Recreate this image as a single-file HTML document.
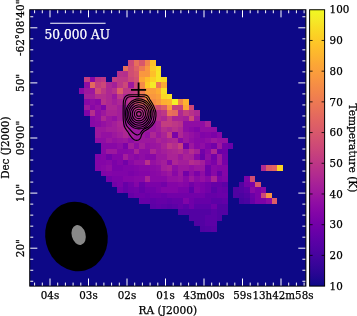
<!DOCTYPE html>
<html><head><meta charset="utf-8"><title>Temperature map</title>
<style>
html,body{margin:0;padding:0;background:#fff;}
body{width:357px;height:316px;overflow:hidden;}
svg{display:block;}
text{font-family:"DejaVu Serif","Liberation Serif",serif;font-size:10.3px;fill:#000;stroke:#000;stroke-width:0.25px;}
</style></head><body>
<svg width="357" height="316" viewBox="0 0 357 316">
<rect x="0" y="0" width="357" height="316" fill="#fff"/>
<rect x="29.75" y="9.75" width="276.15" height="276.35" fill="#0d0887"/>
<g shape-rendering="crispEdges">
<rect x="128.18" y="60.40" width="5.57" height="5.57" fill="#cc4778"/><rect x="133.70" y="60.40" width="5.57" height="5.57" fill="#e76f5a"/><rect x="139.22" y="60.40" width="5.57" height="5.57" fill="#d8576b"/><rect x="144.74" y="60.40" width="5.57" height="5.57" fill="#f2844b"/><rect x="150.26" y="60.40" width="5.57" height="5.57" fill="#fec029"/>
<rect x="122.66" y="65.92" width="5.57" height="5.57" fill="#e76f5a"/><rect x="128.18" y="65.92" width="5.57" height="5.57" fill="#d04d73"/><rect x="133.70" y="65.92" width="5.57" height="5.57" fill="#de6164"/><rect x="139.22" y="65.92" width="5.57" height="5.57" fill="#ed7953"/><rect x="144.74" y="65.92" width="5.57" height="5.57" fill="#f9973f"/><rect x="150.26" y="65.92" width="5.57" height="5.57" fill="#fdca26"/><rect x="155.78" y="65.92" width="5.57" height="5.57" fill="#f8e125"/>
<rect x="117.14" y="71.44" width="5.57" height="5.57" fill="#b7318a"/><rect x="122.66" y="71.44" width="5.57" height="5.57" fill="#b42e8d"/><rect x="128.18" y="71.44" width="5.57" height="5.57" fill="#d04d73"/><rect x="133.70" y="71.44" width="5.57" height="5.57" fill="#d8576b"/><rect x="139.22" y="71.44" width="5.57" height="5.57" fill="#f9973f"/><rect x="144.74" y="71.44" width="5.57" height="5.57" fill="#f9973f"/><rect x="150.26" y="71.44" width="5.57" height="5.57" fill="#fec029"/><rect x="155.78" y="71.44" width="5.57" height="5.57" fill="#f6e626"/>
<rect x="84.02" y="76.96" width="5.57" height="5.57" fill="#c33d80"/><rect x="89.54" y="76.96" width="5.57" height="5.57" fill="#8808a6"/><rect x="95.06" y="76.96" width="5.57" height="5.57" fill="#b7318a"/><rect x="100.58" y="76.96" width="5.57" height="5.57" fill="#bd3786"/><rect x="111.62" y="76.96" width="5.57" height="5.57" fill="#c33d80"/><rect x="117.14" y="76.96" width="5.57" height="5.57" fill="#bd3786"/><rect x="122.66" y="76.96" width="5.57" height="5.57" fill="#bd3786"/><rect x="128.18" y="76.96" width="5.57" height="5.57" fill="#cc4778"/><rect x="133.70" y="76.96" width="5.57" height="5.57" fill="#d35171"/><rect x="139.22" y="76.96" width="5.57" height="5.57" fill="#fca636"/><rect x="144.74" y="76.96" width="5.57" height="5.57" fill="#febd2a"/><rect x="150.26" y="76.96" width="5.57" height="5.57" fill="#fbd324"/><rect x="155.78" y="76.96" width="5.57" height="5.57" fill="#f6e626"/><rect x="161.30" y="76.96" width="5.57" height="5.57" fill="#f9dc24"/>
<rect x="84.02" y="82.48" width="5.57" height="5.57" fill="#8f0da4"/><rect x="89.54" y="82.48" width="5.57" height="5.57" fill="#e3685f"/><rect x="95.06" y="82.48" width="5.57" height="5.57" fill="#c33d80"/><rect x="100.58" y="82.48" width="5.57" height="5.57" fill="#cc4778"/><rect x="106.10" y="82.48" width="5.57" height="5.57" fill="#ad2793"/><rect x="111.62" y="82.48" width="5.57" height="5.57" fill="#a31e9a"/><rect x="117.14" y="82.48" width="5.57" height="5.57" fill="#bd3786"/><rect x="122.66" y="82.48" width="5.57" height="5.57" fill="#cc4778"/><rect x="128.18" y="82.48" width="5.57" height="5.57" fill="#9c179e"/><rect x="133.70" y="82.48" width="5.57" height="5.57" fill="#cc4778"/><rect x="139.22" y="82.48" width="5.57" height="5.57" fill="#f58b47"/><rect x="144.74" y="82.48" width="5.57" height="5.57" fill="#fdca26"/><rect x="150.26" y="82.48" width="5.57" height="5.57" fill="#f5eb27"/><rect x="155.78" y="82.48" width="5.57" height="5.57" fill="#ed7953"/><rect x="161.30" y="82.48" width="5.57" height="5.57" fill="#fdab33"/>
<rect x="78.50" y="88.00" width="5.57" height="5.57" fill="#8808a6"/><rect x="84.02" y="88.00" width="5.57" height="5.57" fill="#9c179e"/><rect x="89.54" y="88.00" width="5.57" height="5.57" fill="#9c179e"/><rect x="95.06" y="88.00" width="5.57" height="5.57" fill="#d04d73"/><rect x="100.58" y="88.00" width="5.57" height="5.57" fill="#bd3786"/><rect x="106.10" y="88.00" width="5.57" height="5.57" fill="#ad2793"/><rect x="111.62" y="88.00" width="5.57" height="5.57" fill="#b7318a"/><rect x="117.14" y="88.00" width="5.57" height="5.57" fill="#dc5d67"/><rect x="122.66" y="88.00" width="5.57" height="5.57" fill="#bd3786"/><rect x="128.18" y="88.00" width="5.57" height="5.57" fill="#bd3786"/><rect x="133.70" y="88.00" width="5.57" height="5.57" fill="#c33d80"/><rect x="139.22" y="88.00" width="5.57" height="5.57" fill="#ed7953"/><rect x="144.74" y="88.00" width="5.57" height="5.57" fill="#fb9f3a"/><rect x="150.26" y="88.00" width="5.57" height="5.57" fill="#fb9f3a"/><rect x="155.78" y="88.00" width="5.57" height="5.57" fill="#fdab33"/><rect x="161.30" y="88.00" width="5.57" height="5.57" fill="#f8e125"/>
<rect x="84.02" y="93.52" width="5.57" height="5.57" fill="#a31e9a"/><rect x="89.54" y="93.52" width="5.57" height="5.57" fill="#a31e9a"/><rect x="95.06" y="93.52" width="5.57" height="5.57" fill="#b42e8d"/><rect x="100.58" y="93.52" width="5.57" height="5.57" fill="#b42e8d"/><rect x="106.10" y="93.52" width="5.57" height="5.57" fill="#ad2793"/><rect x="111.62" y="93.52" width="5.57" height="5.57" fill="#9c179e"/><rect x="117.14" y="93.52" width="5.57" height="5.57" fill="#bd3786"/><rect x="122.66" y="93.52" width="5.57" height="5.57" fill="#ad2793"/><rect x="128.18" y="93.52" width="5.57" height="5.57" fill="#b7318a"/><rect x="133.70" y="93.52" width="5.57" height="5.57" fill="#bd3786"/><rect x="139.22" y="93.52" width="5.57" height="5.57" fill="#e16462"/><rect x="144.74" y="93.52" width="5.57" height="5.57" fill="#f68f44"/><rect x="150.26" y="93.52" width="5.57" height="5.57" fill="#f9973f"/><rect x="155.78" y="93.52" width="5.57" height="5.57" fill="#fb9f3a"/><rect x="161.30" y="93.52" width="5.57" height="5.57" fill="#fad824"/><rect x="166.82" y="93.52" width="5.57" height="5.57" fill="#f8e125"/>
<rect x="84.02" y="99.04" width="5.57" height="5.57" fill="#8808a6"/><rect x="89.54" y="99.04" width="5.57" height="5.57" fill="#8f0da4"/><rect x="95.06" y="99.04" width="5.57" height="5.57" fill="#8808a6"/><rect x="100.58" y="99.04" width="5.57" height="5.57" fill="#b7318a"/><rect x="106.10" y="99.04" width="5.57" height="5.57" fill="#ad2793"/><rect x="111.62" y="99.04" width="5.57" height="5.57" fill="#a31e9a"/><rect x="117.14" y="99.04" width="5.57" height="5.57" fill="#ad2793"/><rect x="122.66" y="99.04" width="5.57" height="5.57" fill="#ad2793"/><rect x="128.18" y="99.04" width="5.57" height="5.57" fill="#bd3786"/><rect x="133.70" y="99.04" width="5.57" height="5.57" fill="#cc4778"/><rect x="139.22" y="99.04" width="5.57" height="5.57" fill="#de6164"/><rect x="144.74" y="99.04" width="5.57" height="5.57" fill="#f0804e"/><rect x="150.26" y="99.04" width="5.57" height="5.57" fill="#f58b47"/><rect x="155.78" y="99.04" width="5.57" height="5.57" fill="#f9973f"/><rect x="161.30" y="99.04" width="5.57" height="5.57" fill="#fdaf31"/><rect x="166.82" y="99.04" width="5.57" height="5.57" fill="#fdb42f"/><rect x="172.34" y="99.04" width="5.57" height="5.57" fill="#f3f027"/><rect x="177.86" y="99.04" width="5.57" height="5.57" fill="#f2844b"/><rect x="183.38" y="99.04" width="5.57" height="5.57" fill="#fdb42f"/>
<rect x="84.02" y="104.56" width="5.57" height="5.57" fill="#9c179e"/><rect x="89.54" y="104.56" width="5.57" height="5.57" fill="#8808a6"/><rect x="95.06" y="104.56" width="5.57" height="5.57" fill="#9410a2"/><rect x="100.58" y="104.56" width="5.57" height="5.57" fill="#8004a8"/><rect x="106.10" y="104.56" width="5.57" height="5.57" fill="#ad2793"/><rect x="111.62" y="104.56" width="5.57" height="5.57" fill="#ad2793"/><rect x="117.14" y="104.56" width="5.57" height="5.57" fill="#a31e9a"/><rect x="122.66" y="104.56" width="5.57" height="5.57" fill="#9c179e"/><rect x="128.18" y="104.56" width="5.57" height="5.57" fill="#ad2793"/><rect x="133.70" y="104.56" width="5.57" height="5.57" fill="#bd3786"/><rect x="139.22" y="104.56" width="5.57" height="5.57" fill="#c6417d"/><rect x="144.74" y="104.56" width="5.57" height="5.57" fill="#d8576b"/><rect x="150.26" y="104.56" width="5.57" height="5.57" fill="#dc5d67"/><rect x="155.78" y="104.56" width="5.57" height="5.57" fill="#d04d73"/><rect x="161.30" y="104.56" width="5.57" height="5.57" fill="#dc5d67"/><rect x="166.82" y="104.56" width="5.57" height="5.57" fill="#f9973f"/><rect x="172.34" y="104.56" width="5.57" height="5.57" fill="#c6417d"/><rect x="177.86" y="104.56" width="5.57" height="5.57" fill="#c6417d"/><rect x="183.38" y="104.56" width="5.57" height="5.57" fill="#fca636"/><rect x="188.90" y="104.56" width="5.57" height="5.57" fill="#cc4778"/>
<rect x="84.02" y="110.08" width="5.57" height="5.57" fill="#8004a8"/><rect x="89.54" y="110.08" width="5.57" height="5.57" fill="#b42e8d"/><rect x="95.06" y="110.08" width="5.57" height="5.57" fill="#8f0da4"/><rect x="100.58" y="110.08" width="5.57" height="5.57" fill="#9c179e"/><rect x="106.10" y="110.08" width="5.57" height="5.57" fill="#aa2395"/><rect x="111.62" y="110.08" width="5.57" height="5.57" fill="#aa2395"/><rect x="117.14" y="110.08" width="5.57" height="5.57" fill="#a31e9a"/><rect x="122.66" y="110.08" width="5.57" height="5.57" fill="#9410a2"/><rect x="128.18" y="110.08" width="5.57" height="5.57" fill="#a62098"/><rect x="133.70" y="110.08" width="5.57" height="5.57" fill="#b42e8d"/><rect x="139.22" y="110.08" width="5.57" height="5.57" fill="#b42e8d"/><rect x="144.74" y="110.08" width="5.57" height="5.57" fill="#bd3786"/><rect x="150.26" y="110.08" width="5.57" height="5.57" fill="#b42e8d"/><rect x="155.78" y="110.08" width="5.57" height="5.57" fill="#b42e8d"/><rect x="161.30" y="110.08" width="5.57" height="5.57" fill="#bd3786"/><rect x="166.82" y="110.08" width="5.57" height="5.57" fill="#e97158"/><rect x="172.34" y="110.08" width="5.57" height="5.57" fill="#e56b5d"/><rect x="177.86" y="110.08" width="5.57" height="5.57" fill="#ad2793"/><rect x="183.38" y="110.08" width="5.57" height="5.57" fill="#c33d80"/><rect x="188.90" y="110.08" width="5.57" height="5.57" fill="#b7318a"/><rect x="194.42" y="110.08" width="5.57" height="5.57" fill="#ad2793"/>
<rect x="89.54" y="115.60" width="5.57" height="5.57" fill="#8808a6"/><rect x="95.06" y="115.60" width="5.57" height="5.57" fill="#8f0da4"/><rect x="100.58" y="115.60" width="5.57" height="5.57" fill="#ad2793"/><rect x="106.10" y="115.60" width="5.57" height="5.57" fill="#9c179e"/><rect x="111.62" y="115.60" width="5.57" height="5.57" fill="#9410a2"/><rect x="117.14" y="115.60" width="5.57" height="5.57" fill="#a31e9a"/><rect x="122.66" y="115.60" width="5.57" height="5.57" fill="#9c179e"/><rect x="128.18" y="115.60" width="5.57" height="5.57" fill="#a31e9a"/><rect x="133.70" y="115.60" width="5.57" height="5.57" fill="#ad2793"/><rect x="139.22" y="115.60" width="5.57" height="5.57" fill="#ad2793"/><rect x="144.74" y="115.60" width="5.57" height="5.57" fill="#ad2793"/><rect x="150.26" y="115.60" width="5.57" height="5.57" fill="#a62098"/><rect x="155.78" y="115.60" width="5.57" height="5.57" fill="#b42e8d"/><rect x="161.30" y="115.60" width="5.57" height="5.57" fill="#ad2793"/><rect x="166.82" y="115.60" width="5.57" height="5.57" fill="#c33d80"/><rect x="172.34" y="115.60" width="5.57" height="5.57" fill="#aa2395"/><rect x="177.86" y="115.60" width="5.57" height="5.57" fill="#aa2395"/><rect x="183.38" y="115.60" width="5.57" height="5.57" fill="#a31e9a"/><rect x="188.90" y="115.60" width="5.57" height="5.57" fill="#cc4778"/><rect x="194.42" y="115.60" width="5.57" height="5.57" fill="#9c179e"/>
<rect x="89.54" y="121.12" width="5.57" height="5.57" fill="#8808a6"/><rect x="95.06" y="121.12" width="5.57" height="5.57" fill="#8b0aa5"/><rect x="100.58" y="121.12" width="5.57" height="5.57" fill="#9410a2"/><rect x="106.10" y="121.12" width="5.57" height="5.57" fill="#9c179e"/><rect x="111.62" y="121.12" width="5.57" height="5.57" fill="#a31e9a"/><rect x="117.14" y="121.12" width="5.57" height="5.57" fill="#ad2793"/><rect x="122.66" y="121.12" width="5.57" height="5.57" fill="#9c179e"/><rect x="128.18" y="121.12" width="5.57" height="5.57" fill="#9c179e"/><rect x="133.70" y="121.12" width="5.57" height="5.57" fill="#a31e9a"/><rect x="139.22" y="121.12" width="5.57" height="5.57" fill="#a31e9a"/><rect x="144.74" y="121.12" width="5.57" height="5.57" fill="#a31e9a"/><rect x="150.26" y="121.12" width="5.57" height="5.57" fill="#9c179e"/><rect x="155.78" y="121.12" width="5.57" height="5.57" fill="#a62098"/><rect x="161.30" y="121.12" width="5.57" height="5.57" fill="#c33d80"/><rect x="166.82" y="121.12" width="5.57" height="5.57" fill="#c33d80"/><rect x="172.34" y="121.12" width="5.57" height="5.57" fill="#bd3786"/><rect x="177.86" y="121.12" width="5.57" height="5.57" fill="#b7318a"/><rect x="183.38" y="121.12" width="5.57" height="5.57" fill="#8f0da4"/><rect x="188.90" y="121.12" width="5.57" height="5.57" fill="#8f0da4"/><rect x="194.42" y="121.12" width="5.57" height="5.57" fill="#8f0da4"/><rect x="199.94" y="121.12" width="5.57" height="5.57" fill="#8f0da4"/><rect x="205.46" y="121.12" width="5.57" height="5.57" fill="#a62098"/>
<rect x="95.06" y="126.64" width="5.57" height="5.57" fill="#9c179e"/><rect x="100.58" y="126.64" width="5.57" height="5.57" fill="#9c179e"/><rect x="106.10" y="126.64" width="5.57" height="5.57" fill="#a31e9a"/><rect x="111.62" y="126.64" width="5.57" height="5.57" fill="#a31e9a"/><rect x="117.14" y="126.64" width="5.57" height="5.57" fill="#aa2395"/><rect x="122.66" y="126.64" width="5.57" height="5.57" fill="#ad2793"/><rect x="128.18" y="126.64" width="5.57" height="5.57" fill="#9c179e"/><rect x="133.70" y="126.64" width="5.57" height="5.57" fill="#9c179e"/><rect x="139.22" y="126.64" width="5.57" height="5.57" fill="#9c179e"/><rect x="144.74" y="126.64" width="5.57" height="5.57" fill="#9c179e"/><rect x="150.26" y="126.64" width="5.57" height="5.57" fill="#9c179e"/><rect x="155.78" y="126.64" width="5.57" height="5.57" fill="#a31e9a"/><rect x="161.30" y="126.64" width="5.57" height="5.57" fill="#b42e8d"/><rect x="166.82" y="126.64" width="5.57" height="5.57" fill="#ad2793"/><rect x="172.34" y="126.64" width="5.57" height="5.57" fill="#b7318a"/><rect x="177.86" y="126.64" width="5.57" height="5.57" fill="#ad2793"/><rect x="183.38" y="126.64" width="5.57" height="5.57" fill="#8f0da4"/><rect x="188.90" y="126.64" width="5.57" height="5.57" fill="#8808a6"/><rect x="194.42" y="126.64" width="5.57" height="5.57" fill="#8004a8"/><rect x="199.94" y="126.64" width="5.57" height="5.57" fill="#8f0da4"/><rect x="205.46" y="126.64" width="5.57" height="5.57" fill="#8f0da4"/><rect x="210.98" y="126.64" width="5.57" height="5.57" fill="#8f0da4"/>
<rect x="95.06" y="132.16" width="5.57" height="5.57" fill="#9c179e"/><rect x="100.58" y="132.16" width="5.57" height="5.57" fill="#9410a2"/><rect x="106.10" y="132.16" width="5.57" height="5.57" fill="#9410a2"/><rect x="111.62" y="132.16" width="5.57" height="5.57" fill="#9c179e"/><rect x="117.14" y="132.16" width="5.57" height="5.57" fill="#a31e9a"/><rect x="122.66" y="132.16" width="5.57" height="5.57" fill="#ad2793"/><rect x="128.18" y="132.16" width="5.57" height="5.57" fill="#a31e9a"/><rect x="133.70" y="132.16" width="5.57" height="5.57" fill="#9c179e"/><rect x="139.22" y="132.16" width="5.57" height="5.57" fill="#9c179e"/><rect x="144.74" y="132.16" width="5.57" height="5.57" fill="#9410a2"/><rect x="150.26" y="132.16" width="5.57" height="5.57" fill="#ad2793"/><rect x="155.78" y="132.16" width="5.57" height="5.57" fill="#9c179e"/><rect x="161.30" y="132.16" width="5.57" height="5.57" fill="#aa2395"/><rect x="166.82" y="132.16" width="5.57" height="5.57" fill="#c33d80"/><rect x="172.34" y="132.16" width="5.57" height="5.57" fill="#7b02a8"/><rect x="177.86" y="132.16" width="5.57" height="5.57" fill="#ad2793"/><rect x="183.38" y="132.16" width="5.57" height="5.57" fill="#9c179e"/><rect x="188.90" y="132.16" width="5.57" height="5.57" fill="#9410a2"/><rect x="194.42" y="132.16" width="5.57" height="5.57" fill="#8b0aa5"/><rect x="199.94" y="132.16" width="5.57" height="5.57" fill="#8004a8"/><rect x="205.46" y="132.16" width="5.57" height="5.57" fill="#8405a7"/><rect x="210.98" y="132.16" width="5.57" height="5.57" fill="#7b02a8"/><rect x="216.50" y="132.16" width="5.57" height="5.57" fill="#8808a6"/>
<rect x="95.06" y="137.68" width="5.57" height="5.57" fill="#8f0da4"/><rect x="100.58" y="137.68" width="5.57" height="5.57" fill="#8f0da4"/><rect x="106.10" y="137.68" width="5.57" height="5.57" fill="#9c179e"/><rect x="111.62" y="137.68" width="5.57" height="5.57" fill="#9410a2"/><rect x="117.14" y="137.68" width="5.57" height="5.57" fill="#9814a0"/><rect x="122.66" y="137.68" width="5.57" height="5.57" fill="#9c179e"/><rect x="128.18" y="137.68" width="5.57" height="5.57" fill="#8f0da4"/><rect x="133.70" y="137.68" width="5.57" height="5.57" fill="#9c179e"/><rect x="139.22" y="137.68" width="5.57" height="5.57" fill="#9c179e"/><rect x="144.74" y="137.68" width="5.57" height="5.57" fill="#9c179e"/><rect x="150.26" y="137.68" width="5.57" height="5.57" fill="#9c179e"/><rect x="155.78" y="137.68" width="5.57" height="5.57" fill="#aa2395"/><rect x="161.30" y="137.68" width="5.57" height="5.57" fill="#a31e9a"/><rect x="166.82" y="137.68" width="5.57" height="5.57" fill="#aa2395"/><rect x="172.34" y="137.68" width="5.57" height="5.57" fill="#ad2793"/><rect x="177.86" y="137.68" width="5.57" height="5.57" fill="#8808a6"/><rect x="183.38" y="137.68" width="5.57" height="5.57" fill="#9c179e"/><rect x="188.90" y="137.68" width="5.57" height="5.57" fill="#8f0da4"/><rect x="194.42" y="137.68" width="5.57" height="5.57" fill="#8808a6"/><rect x="199.94" y="137.68" width="5.57" height="5.57" fill="#8808a6"/><rect x="205.46" y="137.68" width="5.57" height="5.57" fill="#8f0da4"/><rect x="210.98" y="137.68" width="5.57" height="5.57" fill="#9c179e"/><rect x="216.50" y="137.68" width="5.57" height="5.57" fill="#9410a2"/><rect x="222.02" y="137.68" width="5.57" height="5.57" fill="#9410a2"/>
<rect x="100.58" y="143.20" width="5.57" height="5.57" fill="#8808a6"/><rect x="106.10" y="143.20" width="5.57" height="5.57" fill="#8808a6"/><rect x="111.62" y="143.20" width="5.57" height="5.57" fill="#8808a6"/><rect x="117.14" y="143.20" width="5.57" height="5.57" fill="#8f0da4"/><rect x="122.66" y="143.20" width="5.57" height="5.57" fill="#7b02a8"/><rect x="128.18" y="143.20" width="5.57" height="5.57" fill="#a31e9a"/><rect x="133.70" y="143.20" width="5.57" height="5.57" fill="#8f0da4"/><rect x="139.22" y="143.20" width="5.57" height="5.57" fill="#a31e9a"/><rect x="144.74" y="143.20" width="5.57" height="5.57" fill="#9410a2"/><rect x="150.26" y="143.20" width="5.57" height="5.57" fill="#9814a0"/><rect x="155.78" y="143.20" width="5.57" height="5.57" fill="#9c179e"/><rect x="161.30" y="143.20" width="5.57" height="5.57" fill="#aa2395"/><rect x="166.82" y="143.20" width="5.57" height="5.57" fill="#bd3786"/><rect x="172.34" y="143.20" width="5.57" height="5.57" fill="#b42e8d"/><rect x="177.86" y="143.20" width="5.57" height="5.57" fill="#c6417d"/><rect x="183.38" y="143.20" width="5.57" height="5.57" fill="#7201a8"/><rect x="188.90" y="143.20" width="5.57" height="5.57" fill="#9c179e"/><rect x="194.42" y="143.20" width="5.57" height="5.57" fill="#8808a6"/><rect x="199.94" y="143.20" width="5.57" height="5.57" fill="#8f0da4"/><rect x="205.46" y="143.20" width="5.57" height="5.57" fill="#8004a8"/><rect x="210.98" y="143.20" width="5.57" height="5.57" fill="#7201a8"/><rect x="216.50" y="143.20" width="5.57" height="5.57" fill="#9c179e"/><rect x="222.02" y="143.20" width="5.57" height="5.57" fill="#7201a8"/><rect x="227.54" y="143.20" width="5.57" height="5.57" fill="#6a00a8"/>
<rect x="100.58" y="148.72" width="5.57" height="5.57" fill="#8808a6"/><rect x="106.10" y="148.72" width="5.57" height="5.57" fill="#9c179e"/><rect x="111.62" y="148.72" width="5.57" height="5.57" fill="#9c179e"/><rect x="117.14" y="148.72" width="5.57" height="5.57" fill="#8808a6"/><rect x="122.66" y="148.72" width="5.57" height="5.57" fill="#8808a6"/><rect x="128.18" y="148.72" width="5.57" height="5.57" fill="#8b0aa5"/><rect x="133.70" y="148.72" width="5.57" height="5.57" fill="#aa2395"/><rect x="139.22" y="148.72" width="5.57" height="5.57" fill="#8f0da4"/><rect x="144.74" y="148.72" width="5.57" height="5.57" fill="#8f0da4"/><rect x="150.26" y="148.72" width="5.57" height="5.57" fill="#ad2793"/><rect x="155.78" y="148.72" width="5.57" height="5.57" fill="#9c179e"/><rect x="161.30" y="148.72" width="5.57" height="5.57" fill="#a31e9a"/><rect x="166.82" y="148.72" width="5.57" height="5.57" fill="#aa2395"/><rect x="172.34" y="148.72" width="5.57" height="5.57" fill="#ad2793"/><rect x="177.86" y="148.72" width="5.57" height="5.57" fill="#b42e8d"/><rect x="183.38" y="148.72" width="5.57" height="5.57" fill="#a31e9a"/><rect x="188.90" y="148.72" width="5.57" height="5.57" fill="#b42e8d"/><rect x="194.42" y="148.72" width="5.57" height="5.57" fill="#a62098"/><rect x="199.94" y="148.72" width="5.57" height="5.57" fill="#7201a8"/><rect x="205.46" y="148.72" width="5.57" height="5.57" fill="#8808a6"/><rect x="210.98" y="148.72" width="5.57" height="5.57" fill="#ad2793"/><rect x="216.50" y="148.72" width="5.57" height="5.57" fill="#6a00a8"/><rect x="222.02" y="148.72" width="5.57" height="5.57" fill="#6f00a8"/>
<rect x="95.06" y="154.24" width="5.57" height="5.57" fill="#8004a8"/><rect x="100.58" y="154.24" width="5.57" height="5.57" fill="#8405a7"/><rect x="106.10" y="154.24" width="5.57" height="5.57" fill="#7201a8"/><rect x="111.62" y="154.24" width="5.57" height="5.57" fill="#8405a7"/><rect x="117.14" y="154.24" width="5.57" height="5.57" fill="#8405a7"/><rect x="122.66" y="154.24" width="5.57" height="5.57" fill="#a31e9a"/><rect x="128.18" y="154.24" width="5.57" height="5.57" fill="#8f0da4"/><rect x="133.70" y="154.24" width="5.57" height="5.57" fill="#8808a6"/><rect x="139.22" y="154.24" width="5.57" height="5.57" fill="#8f0da4"/><rect x="144.74" y="154.24" width="5.57" height="5.57" fill="#8808a6"/><rect x="150.26" y="154.24" width="5.57" height="5.57" fill="#8808a6"/><rect x="155.78" y="154.24" width="5.57" height="5.57" fill="#9c179e"/><rect x="161.30" y="154.24" width="5.57" height="5.57" fill="#9c179e"/><rect x="166.82" y="154.24" width="5.57" height="5.57" fill="#aa2395"/><rect x="172.34" y="154.24" width="5.57" height="5.57" fill="#aa2395"/><rect x="177.86" y="154.24" width="5.57" height="5.57" fill="#9c179e"/><rect x="183.38" y="154.24" width="5.57" height="5.57" fill="#aa2395"/><rect x="188.90" y="154.24" width="5.57" height="5.57" fill="#a62098"/><rect x="194.42" y="154.24" width="5.57" height="5.57" fill="#8808a6"/><rect x="199.94" y="154.24" width="5.57" height="5.57" fill="#6a00a8"/><rect x="205.46" y="154.24" width="5.57" height="5.57" fill="#8f0da4"/><rect x="210.98" y="154.24" width="5.57" height="5.57" fill="#7201a8"/><rect x="216.50" y="154.24" width="5.57" height="5.57" fill="#9c179e"/><rect x="222.02" y="154.24" width="5.57" height="5.57" fill="#7201a8"/>
<rect x="95.06" y="159.76" width="5.57" height="5.57" fill="#8405a7"/><rect x="100.58" y="159.76" width="5.57" height="5.57" fill="#8405a7"/><rect x="106.10" y="159.76" width="5.57" height="5.57" fill="#8808a6"/><rect x="111.62" y="159.76" width="5.57" height="5.57" fill="#7b02a8"/><rect x="117.14" y="159.76" width="5.57" height="5.57" fill="#8405a7"/><rect x="122.66" y="159.76" width="5.57" height="5.57" fill="#7201a8"/><rect x="128.18" y="159.76" width="5.57" height="5.57" fill="#8808a6"/><rect x="133.70" y="159.76" width="5.57" height="5.57" fill="#9410a2"/><rect x="139.22" y="159.76" width="5.57" height="5.57" fill="#9410a2"/><rect x="144.74" y="159.76" width="5.57" height="5.57" fill="#b7318a"/><rect x="150.26" y="159.76" width="5.57" height="5.57" fill="#9410a2"/><rect x="155.78" y="159.76" width="5.57" height="5.57" fill="#9c179e"/><rect x="161.30" y="159.76" width="5.57" height="5.57" fill="#a31e9a"/><rect x="166.82" y="159.76" width="5.57" height="5.57" fill="#8808a6"/><rect x="172.34" y="159.76" width="5.57" height="5.57" fill="#ad2793"/><rect x="177.86" y="159.76" width="5.57" height="5.57" fill="#a31e9a"/><rect x="183.38" y="159.76" width="5.57" height="5.57" fill="#a31e9a"/><rect x="188.90" y="159.76" width="5.57" height="5.57" fill="#b42e8d"/><rect x="194.42" y="159.76" width="5.57" height="5.57" fill="#ad2793"/><rect x="199.94" y="159.76" width="5.57" height="5.57" fill="#a31e9a"/><rect x="205.46" y="159.76" width="5.57" height="5.57" fill="#8808a6"/><rect x="210.98" y="159.76" width="5.57" height="5.57" fill="#7b02a8"/><rect x="216.50" y="159.76" width="5.57" height="5.57" fill="#9c179e"/><rect x="222.02" y="159.76" width="5.57" height="5.57" fill="#7701a8"/>
<rect x="95.06" y="165.28" width="5.57" height="5.57" fill="#8405a7"/><rect x="100.58" y="165.28" width="5.57" height="5.57" fill="#8808a6"/><rect x="106.10" y="165.28" width="5.57" height="5.57" fill="#8f0da4"/><rect x="111.62" y="165.28" width="5.57" height="5.57" fill="#7b02a8"/><rect x="117.14" y="165.28" width="5.57" height="5.57" fill="#7b02a8"/><rect x="122.66" y="165.28" width="5.57" height="5.57" fill="#8004a8"/><rect x="128.18" y="165.28" width="5.57" height="5.57" fill="#8004a8"/><rect x="133.70" y="165.28" width="5.57" height="5.57" fill="#8405a7"/><rect x="139.22" y="165.28" width="5.57" height="5.57" fill="#8808a6"/><rect x="144.74" y="165.28" width="5.57" height="5.57" fill="#8808a6"/><rect x="150.26" y="165.28" width="5.57" height="5.57" fill="#8b0aa5"/><rect x="155.78" y="165.28" width="5.57" height="5.57" fill="#8f0da4"/><rect x="161.30" y="165.28" width="5.57" height="5.57" fill="#a31e9a"/><rect x="166.82" y="165.28" width="5.57" height="5.57" fill="#aa2395"/><rect x="172.34" y="165.28" width="5.57" height="5.57" fill="#8f0da4"/><rect x="177.86" y="165.28" width="5.57" height="5.57" fill="#9c179e"/><rect x="183.38" y="165.28" width="5.57" height="5.57" fill="#9c179e"/><rect x="188.90" y="165.28" width="5.57" height="5.57" fill="#9410a2"/><rect x="194.42" y="165.28" width="5.57" height="5.57" fill="#9c179e"/><rect x="199.94" y="165.28" width="5.57" height="5.57" fill="#9c179e"/><rect x="205.46" y="165.28" width="5.57" height="5.57" fill="#6f00a8"/><rect x="210.98" y="165.28" width="5.57" height="5.57" fill="#8808a6"/><rect x="216.50" y="165.28" width="5.57" height="5.57" fill="#8405a7"/><rect x="222.02" y="165.28" width="5.57" height="5.57" fill="#8405a7"/><rect x="260.66" y="165.28" width="5.57" height="5.57" fill="#b12a90"/><rect x="266.18" y="165.28" width="5.57" height="5.57" fill="#dc5d67"/><rect x="271.70" y="165.28" width="5.57" height="5.57" fill="#e16462"/><rect x="277.22" y="165.28" width="5.57" height="5.57" fill="#fbd324"/>
<rect x="100.58" y="170.80" width="5.57" height="5.57" fill="#8004a8"/><rect x="106.10" y="170.80" width="5.57" height="5.57" fill="#8405a7"/><rect x="111.62" y="170.80" width="5.57" height="5.57" fill="#8004a8"/><rect x="117.14" y="170.80" width="5.57" height="5.57" fill="#8004a8"/><rect x="122.66" y="170.80" width="5.57" height="5.57" fill="#8004a8"/><rect x="128.18" y="170.80" width="5.57" height="5.57" fill="#7b02a8"/><rect x="133.70" y="170.80" width="5.57" height="5.57" fill="#8004a8"/><rect x="139.22" y="170.80" width="5.57" height="5.57" fill="#8405a7"/><rect x="144.74" y="170.80" width="5.57" height="5.57" fill="#8405a7"/><rect x="150.26" y="170.80" width="5.57" height="5.57" fill="#8808a6"/><rect x="155.78" y="170.80" width="5.57" height="5.57" fill="#8b0aa5"/><rect x="161.30" y="170.80" width="5.57" height="5.57" fill="#9410a2"/><rect x="166.82" y="170.80" width="5.57" height="5.57" fill="#9c179e"/><rect x="172.34" y="170.80" width="5.57" height="5.57" fill="#8808a6"/><rect x="177.86" y="170.80" width="5.57" height="5.57" fill="#9c179e"/><rect x="183.38" y="170.80" width="5.57" height="5.57" fill="#7201a8"/><rect x="188.90" y="170.80" width="5.57" height="5.57" fill="#8f0da4"/><rect x="194.42" y="170.80" width="5.57" height="5.57" fill="#7b02a8"/><rect x="199.94" y="170.80" width="5.57" height="5.57" fill="#8f0da4"/><rect x="205.46" y="170.80" width="5.57" height="5.57" fill="#6f00a8"/><rect x="210.98" y="170.80" width="5.57" height="5.57" fill="#8808a6"/><rect x="216.50" y="170.80" width="5.57" height="5.57" fill="#6600a7"/><rect x="222.02" y="170.80" width="5.57" height="5.57" fill="#8405a7"/>
<rect x="106.10" y="176.32" width="5.57" height="5.57" fill="#7201a8"/><rect x="111.62" y="176.32" width="5.57" height="5.57" fill="#7b02a8"/><rect x="117.14" y="176.32" width="5.57" height="5.57" fill="#7b02a8"/><rect x="122.66" y="176.32" width="5.57" height="5.57" fill="#8405a7"/><rect x="128.18" y="176.32" width="5.57" height="5.57" fill="#8405a7"/><rect x="133.70" y="176.32" width="5.57" height="5.57" fill="#8808a6"/><rect x="139.22" y="176.32" width="5.57" height="5.57" fill="#8808a6"/><rect x="144.74" y="176.32" width="5.57" height="5.57" fill="#aa2395"/><rect x="150.26" y="176.32" width="5.57" height="5.57" fill="#8808a6"/><rect x="155.78" y="176.32" width="5.57" height="5.57" fill="#8808a6"/><rect x="161.30" y="176.32" width="5.57" height="5.57" fill="#8808a6"/><rect x="166.82" y="176.32" width="5.57" height="5.57" fill="#9410a2"/><rect x="172.34" y="176.32" width="5.57" height="5.57" fill="#9410a2"/><rect x="177.86" y="176.32" width="5.57" height="5.57" fill="#9814a0"/><rect x="183.38" y="176.32" width="5.57" height="5.57" fill="#8808a6"/><rect x="188.90" y="176.32" width="5.57" height="5.57" fill="#9c179e"/><rect x="194.42" y="176.32" width="5.57" height="5.57" fill="#8b0aa5"/><rect x="199.94" y="176.32" width="5.57" height="5.57" fill="#9410a2"/><rect x="205.46" y="176.32" width="5.57" height="5.57" fill="#8808a6"/><rect x="210.98" y="176.32" width="5.57" height="5.57" fill="#aa2395"/><rect x="216.50" y="176.32" width="5.57" height="5.57" fill="#7b02a8"/><rect x="222.02" y="176.32" width="5.57" height="5.57" fill="#8004a8"/><rect x="244.10" y="176.32" width="5.57" height="5.57" fill="#7b02a8"/><rect x="249.62" y="176.32" width="5.57" height="5.57" fill="#d04d73"/>
<rect x="111.62" y="181.84" width="5.57" height="5.57" fill="#7201a8"/><rect x="117.14" y="181.84" width="5.57" height="5.57" fill="#7b02a8"/><rect x="122.66" y="181.84" width="5.57" height="5.57" fill="#6600a7"/><rect x="128.18" y="181.84" width="5.57" height="5.57" fill="#7201a8"/><rect x="133.70" y="181.84" width="5.57" height="5.57" fill="#8405a7"/><rect x="139.22" y="181.84" width="5.57" height="5.57" fill="#6a00a8"/><rect x="144.74" y="181.84" width="5.57" height="5.57" fill="#7b02a8"/><rect x="150.26" y="181.84" width="5.57" height="5.57" fill="#7b02a8"/><rect x="155.78" y="181.84" width="5.57" height="5.57" fill="#7b02a8"/><rect x="161.30" y="181.84" width="5.57" height="5.57" fill="#7201a8"/><rect x="166.82" y="181.84" width="5.57" height="5.57" fill="#8405a7"/><rect x="172.34" y="181.84" width="5.57" height="5.57" fill="#8405a7"/><rect x="177.86" y="181.84" width="5.57" height="5.57" fill="#8808a6"/><rect x="183.38" y="181.84" width="5.57" height="5.57" fill="#8405a7"/><rect x="188.90" y="181.84" width="5.57" height="5.57" fill="#7201a8"/><rect x="194.42" y="181.84" width="5.57" height="5.57" fill="#8004a8"/><rect x="199.94" y="181.84" width="5.57" height="5.57" fill="#7b02a8"/><rect x="205.46" y="181.84" width="5.57" height="5.57" fill="#7201a8"/><rect x="210.98" y="181.84" width="5.57" height="5.57" fill="#6600a7"/><rect x="216.50" y="181.84" width="5.57" height="5.57" fill="#6600a7"/><rect x="222.02" y="181.84" width="5.57" height="5.57" fill="#5c01a6"/><rect x="238.58" y="181.84" width="5.57" height="5.57" fill="#5302a3"/><rect x="244.10" y="181.84" width="5.57" height="5.57" fill="#7201a8"/><rect x="249.62" y="181.84" width="5.57" height="5.57" fill="#7b02a8"/><rect x="255.14" y="181.84" width="5.57" height="5.57" fill="#d8576b"/>
<rect x="117.14" y="187.36" width="5.57" height="5.57" fill="#7201a8"/><rect x="122.66" y="187.36" width="5.57" height="5.57" fill="#6600a7"/><rect x="128.18" y="187.36" width="5.57" height="5.57" fill="#6f00a8"/><rect x="133.70" y="187.36" width="5.57" height="5.57" fill="#7201a8"/><rect x="139.22" y="187.36" width="5.57" height="5.57" fill="#6600a7"/><rect x="144.74" y="187.36" width="5.57" height="5.57" fill="#7201a8"/><rect x="150.26" y="187.36" width="5.57" height="5.57" fill="#7201a8"/><rect x="155.78" y="187.36" width="5.57" height="5.57" fill="#7b02a8"/><rect x="161.30" y="187.36" width="5.57" height="5.57" fill="#8405a7"/><rect x="166.82" y="187.36" width="5.57" height="5.57" fill="#8405a7"/><rect x="172.34" y="187.36" width="5.57" height="5.57" fill="#8405a7"/><rect x="177.86" y="187.36" width="5.57" height="5.57" fill="#7b02a8"/><rect x="183.38" y="187.36" width="5.57" height="5.57" fill="#7b02a8"/><rect x="188.90" y="187.36" width="5.57" height="5.57" fill="#6100a7"/><rect x="194.42" y="187.36" width="5.57" height="5.57" fill="#8405a7"/><rect x="199.94" y="187.36" width="5.57" height="5.57" fill="#7b02a8"/><rect x="205.46" y="187.36" width="5.57" height="5.57" fill="#7201a8"/><rect x="210.98" y="187.36" width="5.57" height="5.57" fill="#5c01a6"/><rect x="216.50" y="187.36" width="5.57" height="5.57" fill="#6a00a8"/><rect x="222.02" y="187.36" width="5.57" height="5.57" fill="#6600a7"/><rect x="233.06" y="187.36" width="5.57" height="5.57" fill="#5002a2"/><rect x="238.58" y="187.36" width="5.57" height="5.57" fill="#5302a3"/><rect x="244.10" y="187.36" width="5.57" height="5.57" fill="#5c01a6"/><rect x="249.62" y="187.36" width="5.57" height="5.57" fill="#8808a6"/><rect x="255.14" y="187.36" width="5.57" height="5.57" fill="#7b02a8"/><rect x="260.66" y="187.36" width="5.57" height="5.57" fill="#8808a6"/>
<rect x="128.18" y="192.88" width="5.57" height="5.57" fill="#6600a7"/><rect x="133.70" y="192.88" width="5.57" height="5.57" fill="#6f00a8"/><rect x="139.22" y="192.88" width="5.57" height="5.57" fill="#6f00a8"/><rect x="144.74" y="192.88" width="5.57" height="5.57" fill="#6a00a8"/><rect x="150.26" y="192.88" width="5.57" height="5.57" fill="#6f00a8"/><rect x="155.78" y="192.88" width="5.57" height="5.57" fill="#6f00a8"/><rect x="161.30" y="192.88" width="5.57" height="5.57" fill="#6a00a8"/><rect x="166.82" y="192.88" width="5.57" height="5.57" fill="#7201a8"/><rect x="172.34" y="192.88" width="5.57" height="5.57" fill="#7201a8"/><rect x="177.86" y="192.88" width="5.57" height="5.57" fill="#7201a8"/><rect x="183.38" y="192.88" width="5.57" height="5.57" fill="#7201a8"/><rect x="188.90" y="192.88" width="5.57" height="5.57" fill="#7201a8"/><rect x="194.42" y="192.88" width="5.57" height="5.57" fill="#7201a8"/><rect x="199.94" y="192.88" width="5.57" height="5.57" fill="#7201a8"/><rect x="205.46" y="192.88" width="5.57" height="5.57" fill="#6600a7"/><rect x="210.98" y="192.88" width="5.57" height="5.57" fill="#6600a7"/><rect x="216.50" y="192.88" width="5.57" height="5.57" fill="#6a00a8"/><rect x="222.02" y="192.88" width="5.57" height="5.57" fill="#6a00a8"/><rect x="233.06" y="192.88" width="5.57" height="5.57" fill="#5002a2"/><rect x="238.58" y="192.88" width="5.57" height="5.57" fill="#4b03a1"/><rect x="244.10" y="192.88" width="5.57" height="5.57" fill="#5302a3"/><rect x="249.62" y="192.88" width="5.57" height="5.57" fill="#6a00a8"/><rect x="255.14" y="192.88" width="5.57" height="5.57" fill="#7b02a8"/><rect x="260.66" y="192.88" width="5.57" height="5.57" fill="#cc4778"/><rect x="266.18" y="192.88" width="5.57" height="5.57" fill="#f79342"/>
<rect x="139.22" y="198.40" width="5.57" height="5.57" fill="#6600a7"/><rect x="144.74" y="198.40" width="5.57" height="5.57" fill="#6600a7"/><rect x="150.26" y="198.40" width="5.57" height="5.57" fill="#6100a7"/><rect x="155.78" y="198.40" width="5.57" height="5.57" fill="#6600a7"/><rect x="161.30" y="198.40" width="5.57" height="5.57" fill="#6600a7"/><rect x="166.82" y="198.40" width="5.57" height="5.57" fill="#6100a7"/><rect x="172.34" y="198.40" width="5.57" height="5.57" fill="#6600a7"/><rect x="177.86" y="198.40" width="5.57" height="5.57" fill="#6600a7"/><rect x="183.38" y="198.40" width="5.57" height="5.57" fill="#8004a8"/><rect x="188.90" y="198.40" width="5.57" height="5.57" fill="#6f00a8"/><rect x="194.42" y="198.40" width="5.57" height="5.57" fill="#6600a7"/><rect x="199.94" y="198.40" width="5.57" height="5.57" fill="#6600a7"/><rect x="205.46" y="198.40" width="5.57" height="5.57" fill="#6600a7"/><rect x="210.98" y="198.40" width="5.57" height="5.57" fill="#5c01a6"/><rect x="216.50" y="198.40" width="5.57" height="5.57" fill="#5c01a6"/><rect x="222.02" y="198.40" width="5.57" height="5.57" fill="#6100a7"/><rect x="238.58" y="198.40" width="5.57" height="5.57" fill="#46039f"/><rect x="244.10" y="198.40" width="5.57" height="5.57" fill="#4b03a1"/><rect x="249.62" y="198.40" width="5.57" height="5.57" fill="#6600a7"/><rect x="255.14" y="198.40" width="5.57" height="5.57" fill="#7b02a8"/><rect x="260.66" y="198.40" width="5.57" height="5.57" fill="#7b02a8"/><rect x="266.18" y="198.40" width="5.57" height="5.57" fill="#8b0aa5"/><rect x="271.70" y="198.40" width="5.57" height="5.57" fill="#dc5d67"/>
<rect x="150.26" y="203.92" width="5.57" height="5.57" fill="#5c01a6"/><rect x="155.78" y="203.92" width="5.57" height="5.57" fill="#6100a7"/><rect x="161.30" y="203.92" width="5.57" height="5.57" fill="#5c01a6"/><rect x="166.82" y="203.92" width="5.57" height="5.57" fill="#5801a4"/><rect x="172.34" y="203.92" width="5.57" height="5.57" fill="#5c01a6"/><rect x="177.86" y="203.92" width="5.57" height="5.57" fill="#6600a7"/><rect x="183.38" y="203.92" width="5.57" height="5.57" fill="#5c01a6"/><rect x="188.90" y="203.92" width="5.57" height="5.57" fill="#6f00a8"/><rect x="194.42" y="203.92" width="5.57" height="5.57" fill="#5c01a6"/><rect x="199.94" y="203.92" width="5.57" height="5.57" fill="#5c01a6"/><rect x="205.46" y="203.92" width="5.57" height="5.57" fill="#5c01a6"/><rect x="210.98" y="203.92" width="5.57" height="5.57" fill="#6f00a8"/><rect x="216.50" y="203.92" width="5.57" height="5.57" fill="#5302a3"/><rect x="222.02" y="203.92" width="5.57" height="5.57" fill="#5302a3"/>
<rect x="177.86" y="209.44" width="5.57" height="5.57" fill="#5302a3"/><rect x="183.38" y="209.44" width="5.57" height="5.57" fill="#5302a3"/><rect x="188.90" y="209.44" width="5.57" height="5.57" fill="#5302a3"/><rect x="194.42" y="209.44" width="5.57" height="5.57" fill="#5302a3"/><rect x="199.94" y="209.44" width="5.57" height="5.57" fill="#5302a3"/><rect x="205.46" y="209.44" width="5.57" height="5.57" fill="#5302a3"/><rect x="210.98" y="209.44" width="5.57" height="5.57" fill="#5c01a6"/><rect x="216.50" y="209.44" width="5.57" height="5.57" fill="#5302a3"/><rect x="222.02" y="209.44" width="5.57" height="5.57" fill="#5302a3"/>
<rect x="188.90" y="214.96" width="5.57" height="5.57" fill="#5302a3"/><rect x="194.42" y="214.96" width="5.57" height="5.57" fill="#5302a3"/><rect x="199.94" y="214.96" width="5.57" height="5.57" fill="#5302a3"/><rect x="205.46" y="214.96" width="5.57" height="5.57" fill="#5c01a6"/><rect x="210.98" y="214.96" width="5.57" height="5.57" fill="#5c01a6"/><rect x="216.50" y="214.96" width="5.57" height="5.57" fill="#5302a3"/>
<rect x="194.42" y="220.48" width="5.57" height="5.57" fill="#5002a2"/><rect x="199.94" y="220.48" width="5.57" height="5.57" fill="#5302a3"/><rect x="205.46" y="220.48" width="5.57" height="5.57" fill="#5c01a6"/><rect x="210.98" y="220.48" width="5.57" height="5.57" fill="#5c01a6"/>
<rect x="199.94" y="226.00" width="5.57" height="5.57" fill="#5002a2"/><rect x="205.46" y="226.00" width="5.57" height="5.57" fill="#5302a3"/><rect x="210.98" y="226.00" width="5.57" height="5.57" fill="#5801a4"/>
</g>
<ellipse cx="76.45" cy="236.5" rx="31.1" ry="34.95" transform="rotate(-14 76.3 236.5)" fill="#000"/>
<ellipse cx="78.6" cy="235" rx="6.9" ry="10.2" transform="rotate(-15 78.6 234.8)" fill="#888"/>
<g fill="none" stroke="#000" stroke-width="1.1">
<ellipse cx="138.9" cy="113.9" rx="2.3" ry="2.3"/><ellipse cx="138.9" cy="113.9" rx="4.5" ry="4.7"/><ellipse cx="138.9" cy="113.9" rx="6.7" ry="7.0"/><ellipse cx="138.9" cy="113.9" rx="8.5" ry="9.2"/><ellipse cx="138.9" cy="113.9" rx="10.2" ry="11.4"/><ellipse cx="138.9" cy="113.9" rx="11.8" ry="13.3"/><ellipse cx="138.9" cy="113.9" rx="13.3" ry="15.0"/>
<path d="M123.1,114.5C123.1,112.0 123.1,108.3 123.2,106.0C123.3,103.7 123.2,102.1 123.6,100.5C123.9,98.9 124.5,97.5 125.3,96.6C126.1,95.7 126.6,95.2 128.6,94.9C130.5,94.6 134.3,94.8 137.0,94.8C139.7,94.8 143.1,94.6 145.0,94.9C146.9,95.2 147.4,95.8 148.2,96.6C149.0,97.3 149.0,98.0 149.8,99.4C150.7,100.9 152.3,103.1 153.3,105.3C154.3,107.5 155.6,109.9 155.9,112.4C156.2,114.9 155.9,118.0 155.3,120.1C154.7,122.2 153.7,123.6 152.5,125.1C151.3,126.6 149.4,128.0 148.0,129.0C146.6,130.0 145.1,130.5 144.1,131.3C143.1,132.2 142.4,133.1 141.8,134.1C141.2,135.1 141.2,136.5 140.7,137.5C140.1,138.5 139.5,139.6 138.5,140.0C137.5,140.4 135.8,140.5 134.6,140.0C133.4,139.5 132.3,138.3 131.2,136.9C130.1,135.5 128.9,133.5 127.8,131.8C126.7,130.1 125.2,128.6 124.5,126.8C123.8,125.0 123.6,123.2 123.4,121.2C123.2,119.2 123.1,117.0 123.1,114.5Z"/>
<path d="M124.9,114.5C124.9,112.0 124.9,108.2 125.0,106.0C125.1,103.8 125.1,102.8 125.4,101.5C125.7,100.2 126.1,99.1 126.8,98.3C127.5,97.5 127.8,97.0 129.5,96.7C131.2,96.4 134.5,96.6 137.0,96.6C139.5,96.6 142.7,96.5 144.3,96.7C145.9,96.9 146.2,97.5 146.8,98.0C147.4,98.5 147.1,98.6 148.0,100.0C148.9,101.4 151.1,104.3 152.1,106.5C153.1,108.7 153.9,110.8 154.2,112.9C154.4,115.0 153.9,117.4 153.6,119.0C153.3,120.6 153.3,121.0 152.5,122.3C151.7,123.6 150.0,125.7 148.6,126.8C147.2,127.9 145.3,128.2 144.1,129.0C142.9,129.8 142.1,131.0 141.3,131.8C140.6,132.7 140.3,133.6 139.6,134.1C138.8,134.6 137.8,135.1 136.8,134.9C135.8,134.7 134.5,133.9 133.4,133.0C132.3,132.1 131.2,130.8 130.1,129.6C129.0,128.4 127.5,127.1 126.7,125.7C125.9,124.3 125.6,123.1 125.3,121.2C125.0,119.3 125.0,117.0 124.9,114.5Z"/>
</g>
<path d="M131,89.8H146.1M138.6,82.4V97" stroke="#000" stroke-width="1.8" fill="none"/>
<path d="M50.2,23.2H105.6" stroke="#fff" stroke-width="1.1" fill="none"/>
<text x="77.3" y="38.7" text-anchor="middle" style="font-size:12.2px;fill:#fff;stroke:#fff">50,000 AU</text>
<path d="M34.60,286.1v-3.5M34.60,9.75v3.5M42.30,286.1v-3.5M42.30,9.75v3.5M50.00,286.1v-7.6M50.00,9.75v7.6M57.70,286.1v-3.5M57.70,9.75v3.5M65.40,286.1v-3.5M65.40,9.75v3.5M73.10,286.1v-3.5M73.10,9.75v3.5M80.80,286.1v-3.5M80.80,9.75v3.5M88.50,286.1v-7.6M88.50,9.75v7.6M96.20,286.1v-3.5M96.20,9.75v3.5M103.90,286.1v-3.5M103.90,9.75v3.5M111.60,286.1v-3.5M111.60,9.75v3.5M119.30,286.1v-3.5M119.30,9.75v3.5M127.00,286.1v-7.6M127.00,9.75v7.6M134.70,286.1v-3.5M134.70,9.75v3.5M142.40,286.1v-3.5M142.40,9.75v3.5M150.10,286.1v-3.5M150.10,9.75v3.5M157.80,286.1v-3.5M157.80,9.75v3.5M165.50,286.1v-7.6M165.50,9.75v7.6M173.20,286.1v-3.5M173.20,9.75v3.5M180.90,286.1v-3.5M180.90,9.75v3.5M188.60,286.1v-3.5M188.60,9.75v3.5M196.30,286.1v-3.5M196.30,9.75v3.5M204.00,286.1v-7.6M204.00,9.75v7.6M211.70,286.1v-3.5M211.70,9.75v3.5M219.40,286.1v-3.5M219.40,9.75v3.5M227.10,286.1v-3.5M227.10,9.75v3.5M234.80,286.1v-3.5M234.80,9.75v3.5M242.50,286.1v-7.6M242.50,9.75v7.6M250.20,286.1v-3.5M250.20,9.75v3.5M257.90,286.1v-3.5M257.90,9.75v3.5M265.60,286.1v-3.5M265.60,9.75v3.5M273.30,286.1v-3.5M273.30,9.75v3.5M281.00,286.1v-7.6M281.00,9.75v7.6M288.70,286.1v-3.5M288.70,9.75v3.5M296.40,286.1v-3.5M296.40,9.75v3.5M304.10,286.1v-3.5M304.10,9.75v3.5M29.75,16.78h3.5M305.9,16.78h-3.5M29.75,27.80h7.6M305.9,27.80h-7.6M29.75,38.82h3.5M305.9,38.82h-3.5M29.75,49.84h3.5M305.9,49.84h-3.5M29.75,60.86h3.5M305.9,60.86h-3.5M29.75,71.88h3.5M305.9,71.88h-3.5M29.75,82.90h7.6M305.9,82.90h-7.6M29.75,93.92h3.5M305.9,93.92h-3.5M29.75,104.94h3.5M305.9,104.94h-3.5M29.75,115.96h3.5M305.9,115.96h-3.5M29.75,126.98h3.5M305.9,126.98h-3.5M29.75,138.00h7.6M305.9,138.00h-7.6M29.75,149.02h3.5M305.9,149.02h-3.5M29.75,160.04h3.5M305.9,160.04h-3.5M29.75,171.06h3.5M305.9,171.06h-3.5M29.75,182.08h3.5M305.9,182.08h-3.5M29.75,193.10h7.6M305.9,193.10h-7.6M29.75,204.12h3.5M305.9,204.12h-3.5M29.75,215.14h3.5M305.9,215.14h-3.5M29.75,226.16h3.5M305.9,226.16h-3.5M29.75,237.18h3.5M305.9,237.18h-3.5M29.75,248.20h7.6M305.9,248.20h-7.6M29.75,259.22h3.5M305.9,259.22h-3.5M29.75,270.24h3.5M305.9,270.24h-3.5M29.75,281.26h3.5M305.9,281.26h-3.5" stroke="#fff" stroke-width="1" fill="none"/>
<rect x="29.75" y="9.75" width="276.15" height="276.35" fill="none" stroke="#000" stroke-width="1"/>
<text x="50.00" y="298.6" text-anchor="middle">04s</text><text x="88.50" y="298.6" text-anchor="middle">03s</text><text x="127.00" y="298.6" text-anchor="middle">02s</text><text x="165.50" y="298.6" text-anchor="middle">01s</text><text x="204.00" y="298.6" text-anchor="middle">43m00s</text><text x="242.50" y="298.6" text-anchor="middle">59s</text><text x="283.00" y="298.6" text-anchor="middle">13h42m58s</text>
<text x="167.8" y="313.8" text-anchor="middle" style="font-size:10.6px">RA (J2000)</text>
<text transform="translate(24.3 27.80) rotate(-90)" text-anchor="middle" style="font-size:10.5px">-62°08'40&quot;</text><text transform="translate(24.3 82.90) rotate(-90)" text-anchor="middle" style="font-size:10.5px">50&quot;</text><text transform="translate(24.3 138.00) rotate(-90)" text-anchor="middle" style="font-size:10.5px">09'00&quot;</text><text transform="translate(24.3 193.10) rotate(-90)" text-anchor="middle" style="font-size:10.5px">10&quot;</text><text transform="translate(24.3 248.20) rotate(-90)" text-anchor="middle" style="font-size:10.5px">20&quot;</text>
<text transform="translate(8.9 147.7) rotate(-90)" text-anchor="middle" style="font-size:10.4px">Dec (J2000)</text>
<defs><linearGradient id="cb" x1="0" y1="1" x2="0" y2="0"><stop offset="0.0000" stop-color="#0d0887"/><stop offset="0.0333" stop-color="#220690"/><stop offset="0.0667" stop-color="#330597"/><stop offset="0.1000" stop-color="#41049d"/><stop offset="0.1333" stop-color="#5002a2"/><stop offset="0.1667" stop-color="#5c01a6"/><stop offset="0.2000" stop-color="#6a00a8"/><stop offset="0.2333" stop-color="#7701a8"/><stop offset="0.2667" stop-color="#8405a7"/><stop offset="0.3000" stop-color="#8f0da4"/><stop offset="0.3333" stop-color="#9c179e"/><stop offset="0.3667" stop-color="#a62098"/><stop offset="0.4000" stop-color="#b12a90"/><stop offset="0.4333" stop-color="#ba3388"/><stop offset="0.4667" stop-color="#c33d80"/><stop offset="0.5000" stop-color="#cc4778"/><stop offset="0.5333" stop-color="#d35171"/><stop offset="0.5667" stop-color="#da5b69"/><stop offset="0.6000" stop-color="#e16462"/><stop offset="0.6333" stop-color="#e76f5a"/><stop offset="0.6667" stop-color="#ed7953"/><stop offset="0.7000" stop-color="#f2844b"/><stop offset="0.7333" stop-color="#f68f44"/><stop offset="0.7667" stop-color="#fa9b3d"/><stop offset="0.8000" stop-color="#fca636"/><stop offset="0.8333" stop-color="#fdb42f"/><stop offset="0.8667" stop-color="#fec029"/><stop offset="0.9000" stop-color="#fcce25"/><stop offset="0.9333" stop-color="#f9dc24"/><stop offset="0.9667" stop-color="#f5eb27"/><stop offset="1.0000" stop-color="#f0f921"/></linearGradient></defs>
<rect x="309.6" y="9.75" width="15.00" height="276.35" fill="url(#cb)" stroke="#000" stroke-width="1"/>
<text x="329.6" y="289.80">10</text><text x="329.6" y="259.09">20</text><text x="329.6" y="228.39">30</text><text x="329.6" y="197.68">40</text><text x="329.6" y="166.98">50</text><text x="329.6" y="136.27">60</text><text x="329.6" y="105.57">70</text><text x="329.6" y="74.86">80</text><text x="329.6" y="44.16">90</text><text x="329.6" y="13.45">100</text>
<path d="M309.6,255.39h3M324.6,255.39h-3M309.6,224.69h3M324.6,224.69h-3M309.6,193.98h3M324.6,193.98h-3M309.6,163.28h3M324.6,163.28h-3M309.6,132.57h3M324.6,132.57h-3M309.6,101.87h3M324.6,101.87h-3M309.6,71.16h3M324.6,71.16h-3M309.6,40.46h3M324.6,40.46h-3" stroke="#000" stroke-width="0.8" fill="none"/>
<text transform="translate(348.6 147.9) rotate(90)" text-anchor="middle" style="font-size:10.6px">Temperature (K)</text>
</svg>
</body></html>
